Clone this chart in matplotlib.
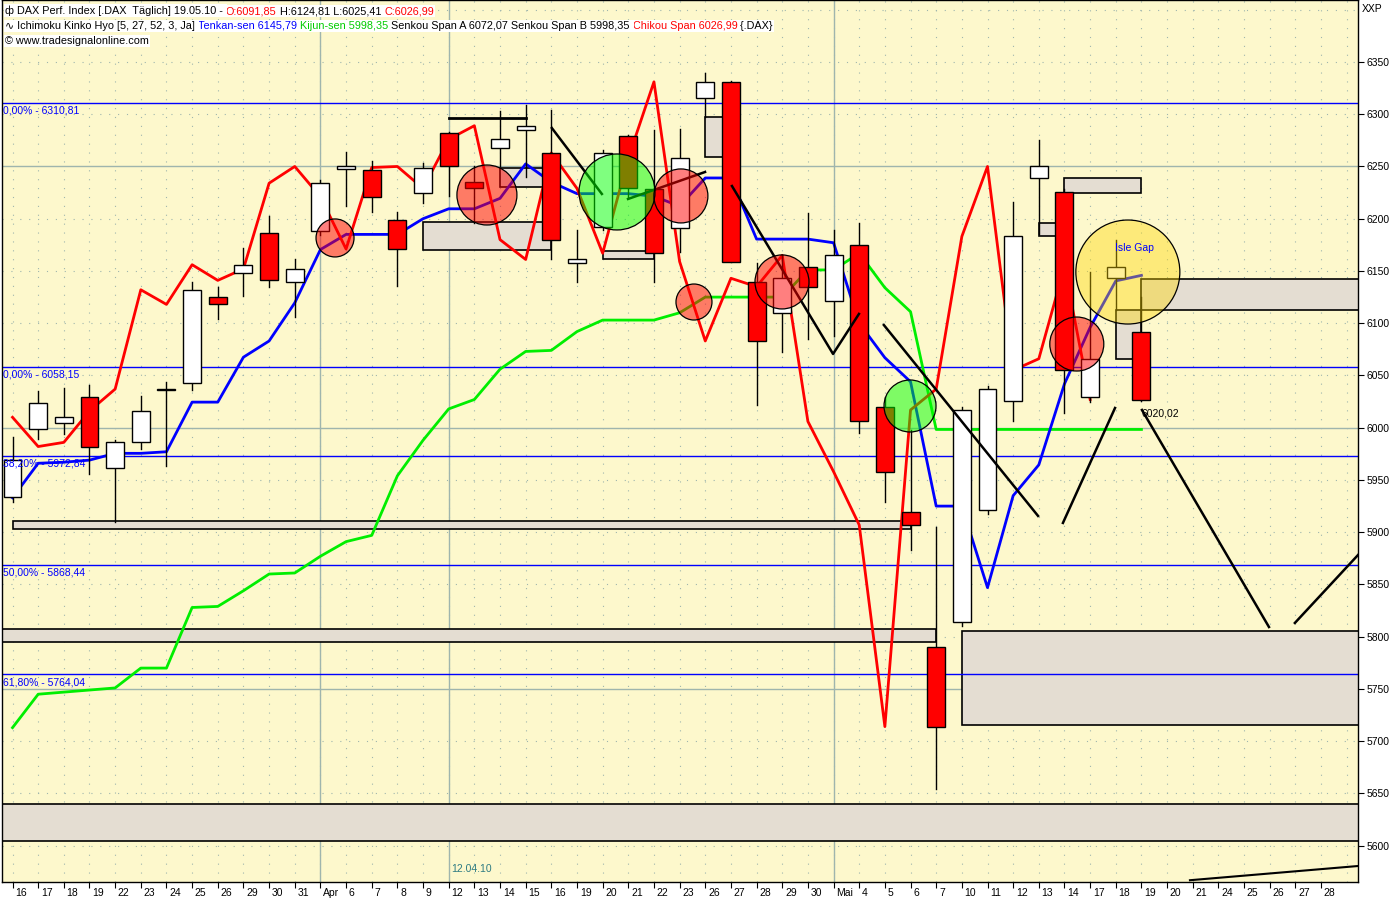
import matplotlib
matplotlib.use("Agg")
import matplotlib.pyplot as plt
from matplotlib.patches import Rectangle, Ellipse
from matplotlib.transforms import ScaledTranslation

plt.rcParams["font.family"] = ["Liberation Sans", "DejaVu Sans"]

# --- data ----------------------------------------------------------------
x_labels = ["16", "17", "18", "19", "22", "23", "24", "25", "26", "29", "30", "31",
            "Apr", "6", "7", "8", "9", "12", "13", "14", "15", "16", "19", "20", "21",
            "22", "23", "26", "27", "28", "29", "30",
            "Mai", "4", "5", "6", "7", "10", "11", "12", "13", "14", "17", "18", "19",
            "20", "21", "24", "25", "26", "27", "28"]

opens = [5934, 5999, 6005, 6029, 5961, 5986, 6036.5, 6043, 6125, 6148, 6186, 6139,
         6188, 6248, 6247, 6199, 6225, 6282, 6235, 6268, 6285, 6263, 6158, 6192,
         6279, 6228, 6191, 6316, 6331, 6139, 6110, 6154, 6121, 6175, 6020, 5919,
         5790, 5814, 5921, 6026, 6239, 6226, 6029, 6143, 6091.85]
highs = [5991, 6035, 6038, 6041, 5988, 6030, 6044, 6139, 6135, 6172, 6203, 6161,
         6237, 6264, 6255, 6206, 6253, 6283, 6250, 6303, 6309, 6304, 6189, 6266,
         6280, 6285, 6286, 6339, 6332, 6158, 6165, 6205, 6189, 6196, 6029, 5998,
         5905, 6020, 6040, 6216, 6275, 6228, 6149, 6180, 6124.81]
lows = [5929, 5989, 5994, 5956, 5910, 5980, 5963, 6036, 6104, 6126, 6135, 6106,
        6184, 6212, 6206, 6136, 6215, 6222, 6196, 6250, 6240, 6161, 6139, 6189,
        6220, 6139, 6168, 6297, 6159, 6022, 6072, 6085, 6088, 5995, 5929, 5883,
        5654, 5810, 5917, 6006, 6185, 6014, 6025, 6113, 6025.41]
closes = [5969, 6024, 6010, 5982, 5986, 6016, 6037, 6132, 6118, 6156, 6141, 6152,
          6234, 6250, 6221, 6171, 6249, 6250, 6229, 6276, 6289, 6180, 6161, 6263,
          6229, 6167, 6258, 6331, 6159, 6083, 6143, 6135, 6165, 6006, 5958, 5907,
          5714, 6017, 6037, 6183, 6250, 6055, 6066, 6154, 6026.99]

tenkan = [5933, 5966, 5967, 5969, 5975.5, 5975.5, 5977, 6024.5, 6024.5, 6067.5, 6083,
          6119.5, 6170.5, 6185, 6185, 6185, 6200, 6209.5, 6209.5, 6219.5, 6252.5, 6235,
          6224, 6224, 6224, 6221.5, 6212, 6239, 6239, 6180.5, 6180.5, 6180.5, 6177,
          6100, 6067, 6044, 5925, 5925, 5847, 5935, 5964.5, 6042, 6096, 6140.5, 6145.79]
kijun = [5713, 5745, 5747, 5749, 5751, 5770, 5770, 5828, 5829, 5844, 5860, 5861, 5877,
         5891, 5897, 5954, 5988, 6018, 6027, 6056, 6073, 6074, 6092, 6103, 6103, 6103,
         6110, 6125, 6125, 6125, 6125, 6151, 6151, 6167, 6134, 6111, 5998.35, 5998.35,
         5998.35, 5998.35, 5998.35, 5998.35, 5998.35, 5998.35, 5998.35]
chikou = [6010, 5982, 5986, 6016, 6037, 6132, 6118, 6156, 6141, 6152, 6234, 6250, 6221,
          6171, 6249, 6250, 6229, 6276, 6289, 6180, 6161, 6263, 6229, 6167, 6258, 6331,
          6159, 6083, 6143, 6135, 6165, 6006, 5958, 5907, 5714, 6017, 6037, 6183, 6250,
          6055, 6066, 6154, 6026.99]

fib_levels = [6310.81, 6058.15, 5972.84, 5868.44, 5764.04]
fib_pcts = ["0,00%", "0,00%", "38,20%", "50,00%", "61,80%"]

# gap boxes: (first bar, last bar, low, high)
gap_boxes = [(0, 35, 5903, 5911), (-1, 36, 5795, 5807), (-1, 53, 5605, 5640),
             (37, 53, 5716, 5805.5), (16, 21, 6170, 6197), (19, 21, 6230, 6249),
             (23, 25, 6161, 6169), (27, 28, 6259, 6297), (40, 41, 6183, 6196),
             (41, 44, 6225, 6239), (43, 44, 6066, 6113), (44, 53, 6113, 6142)]

# hand-drawn markers: (bar, price, radius px, colour)
circles = [(12.57, 6181.6, 19, "red"), (18.49, 6222.7, 30, "red"),
           (23.56, 6225.6, 38, "lime"), (26.05, 6221.8, 27, "red"),
           (26.56, 6120.3, 18, "red"), (29.99, 6139.5, 27, "red"),
           (34.98, 6020.8, 26, "lime"), (41.48, 6080.1, 27, "red"),
           (43.47, 6149.0, 52, "gold")]

trend_lines = [([21.02, 22.97], [6286.8, 6223.7]),
               ([23.99, 26.99], [6218.9, 6244.7]),
               ([28.04, 31.98, 32.99], [6231.3, 6070.6, 6108.9]),
               ([33.96, 39.97], [6098.3, 5915.6]),
               ([40.94, 42.97], [5908.9, 6018.9]),
               ([44.02, 48.97], [6017.0, 5809.3]),
               ([49.98, 52.44], [5813.2, 5878.2])]

# --- figure ----------------------------------------------------------------
BG = "#fdf8cc"
GRID = "#9fb5ad"
XMIN, XMAX = -0.41, 52.44
YMIN, YMAX = 5565.3, 6409.3

fig = plt.figure(figsize=(14, 9), dpi=100)
ax = fig.add_axes([2 / 1400, 18 / 900, 1356 / 1400, 882 / 900])
ax.set_facecolor(BG)
ax.set_xlim(XMIN, XMAX)
ax.set_ylim(YMIN, YMAX)
px_x = 1356 / (XMAX - XMIN)
px_y = 882 / (YMAX - YMIN)

# grid
for i in range(53):
    ax.axvline(i, color=GRID, lw=0.8, ls=(0, (1, 7)), zorder=0.5)
for p in range(5600, 6401, 50):
    if p % 250 == 0:
        ax.axhline(p, color=GRID, lw=1, zorder=0.5)
    else:
        ax.axhline(p, color=GRID, lw=0.8, ls=(0, (1, 7)), zorder=0.5)
for i in (12, 17, 32):
    ax.axvline(i, color=GRID, lw=1, zorder=0.5)

# fibonacci levels
for lvl, pct in zip(fib_levels, fib_pcts):
    ax.axhline(lvl, color="#0000ff", lw=1, zorder=1.5)
    ax.annotate(f"{pct} - {lvl:.2f}".replace(".", ","), xy=(0.0, lvl),
                xycoords=ax.get_yaxis_transform(), xytext=(1, -2),
                textcoords="offset points", va="top", ha="left",
                color="#0000ff", fontsize=7.5, zorder=6)

# gap boxes
for x0, x1, lo, hi in gap_boxes:
    ax.add_patch(Rectangle((x0, lo), x1 - x0, hi - lo, facecolor="#e4ddd2",
                           edgecolor="black", lw=1.2, zorder=1))
ax.plot([17, 20], [6296, 6296], color="black", lw=2, zorder=4)

# ichimoku lines
ax.plot(range(len(kijun)), kijun, color="#00ee00", lw=2, zorder=2)
ax.plot(range(len(tenkan)), tenkan, color="#0000ff", lw=2, zorder=2)
ax.plot(range(len(chikou)), chikou, color="#ff0000", lw=2, zorder=2)

# candles
w = 0.7
for i, (o, h, l, c) in enumerate(zip(opens, highs, lows, closes)):
    ax.plot([i, i], [l, h], color="black", lw=1, zorder=3)
    up = c >= o
    ax.add_patch(Rectangle((i - w / 2, min(o, c)), w, max(abs(c - o), 0.5),
                           facecolor="white" if up else "#ff0000",
                           edgecolor="black", lw=1, zorder=3.2))

# trend lines
for xs, ys in trend_lines:
    ax.plot(xs, ys, color="black", lw=1.8, zorder=4)
ax.plot([45.89, 52.44], [5567, 5580.6], color="black", lw=1.5, zorder=4)

# circles
for cx, cy, r, col in circles:
    ax.add_patch(Ellipse((cx, cy), 2 * r / px_x, 2 * r / px_y, facecolor=col,
                         alpha=0.5 if col != "gold" else 0.4, zorder=5))
    ax.add_patch(Ellipse((cx, cy), 2 * r / px_x, 2 * r / px_y, facecolor="none",
                         edgecolor="black", lw=0.9, zorder=5.1))

ax.text(43.74, 6172, "Isle Gap", color="#0000ff", fontsize=7.5, ha="center",
        va="center", zorder=6)
ax.text(44.0, 6018, "6020,02", color="black", fontsize=7.5, ha="left", va="top",
        zorder=6)
ax.text(17.1, 5578, "12.04.10", color="#2e7b82", fontsize=7.5, ha="left",
        va="center", zorder=6)

# axes
ax.yaxis.tick_right()
ax.set_yticks(range(5600, 6351, 50))
ax.tick_params(axis="y", length=4, pad=2, labelsize=7.5, colors="black")
ax.set_xticks(range(len(x_labels)))
ax.set_xticklabels(x_labels, ha="left")
ax.tick_params(axis="x", length=4, pad=0.5, labelsize=7.5)
shift = ScaledTranslation(2 / 72, 0, fig.dpi_scale_trans)
for lab in ax.get_xticklabels():
    lab.set_transform(lab.get_transform() + shift)
for s in ax.spines.values():
    s.set_color("black")
    s.set_linewidth(1)

fig.text(1362 / 1400, 1 - 9 / 900, "XXP", fontsize=7.5, va="center", ha="left")


# header lines with coloured pieces; earlier pieces sit on top so the
# white backgrounds of later pieces never hide their last letters
def chain(y, parts, size=7.8):
    box = dict(facecolor="white", edgecolor="none", pad=0.8)
    t = None
    for k, (s, c) in enumerate(parts):
        z = 20 - k
        if t is None:
            t = ax.annotate(s, xy=(5 / 1400, y), xycoords="figure fraction",
                            va="bottom", ha="left", color=c, fontsize=size,
                            bbox=box, zorder=z, annotation_clip=False)
        else:
            t = ax.annotate(s, xy=(1, 0), xycoords=t, va="bottom", ha="left",
                            color=c, fontsize=size, bbox=box, zorder=z,
                            annotation_clip=False)


chain(1 - 16 / 900, [("ф DAX Perf. Index [.DAX  Täglich] 19.05.10 - ", "black"),
                     ("O:6091,85", "#ff0000"),
                     (" H:6124,81 L:6025,41 ", "black"),
                     ("C:6026,99", "#ff0000")])
chain(1 - 31 / 900, [("∿ Ichimoku Kinko Hyo [5, 27, 52, 3, Ja] ", "black"),
                     ("Tenkan-sen 6145,79", "#0000ff"),
                     (" Kijun-sen 5998,35", "#00cc00"),
                     (" Senkou Span A 6072,07 Senkou Span B 5998,35 ", "black"),
                     ("Chikou Span 6026,99", "#ff0000"),
                     (" {.DAX}", "black")])
chain(1 - 46 / 900, [("© www.tradesignalonline.com", "black")])

fig.savefig("out.png", dpi=100, facecolor="white")
